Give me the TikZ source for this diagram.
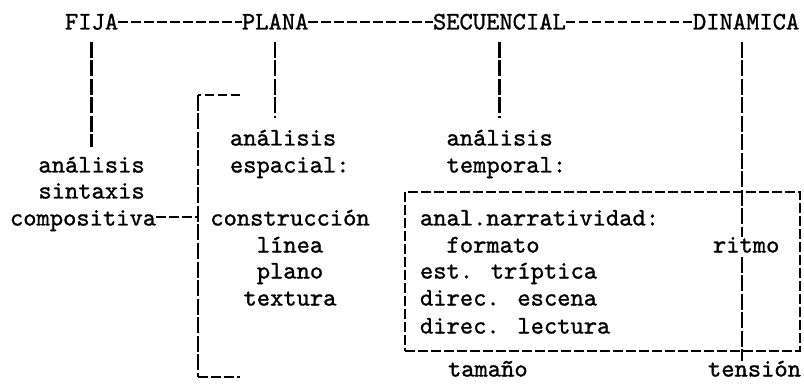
\documentclass[tikz,border=0pt]{standalone}
\usepackage{fontspec}
\newfontfamily\twfont{lmmono10-regular.otf}[FakeBold=1.1]
\begin{document}
\begin{tikzpicture}[x=1pt,y=-1pt,
  every node/.style={inner sep=0pt,outer sep=0pt},
  tw/.style={font=\twfont\fontsize{25.3pt}{26pt}\selectfont},
  capw/.style={tw,anchor=base west,text height=15.5pt,text depth=0pt},
  loww/.style={tw,anchor=base west,text height=10.9pt,text depth=0pt},
  lowc/.style={tw,anchor=base,text height=10.9pt,text depth=0pt},
  hl/.style={line width=2.3pt,dash pattern=on 9.5pt off 3.5pt},
  vl/.style={line width=2.3pt,dash pattern=on 16pt off 2.5pt},
  boxst/.style={draw,line width=2.3pt,dash pattern=on 10pt off 3pt}]
\useasboundingbox (0,0) rectangle (804,385);
% top row
\node[capw] (fija)  at (65,29.5)  {FIJA};
\node[capw] (plana) at (242,29.5) {PLANA};
\node[capw] (sec)   at (433,29.5) {SECUENCIAL};
\node[capw] (din)   at (693,29.5) {DINAMICA};
% left block
\node[lowc] (anL)  at (91.6,172.5) {análisis};
\node[lowc] (sinL) at (91.6,198.5) {sintaxis};
\node[loww] (comp) at (10,225.5)   {compositiva};
% plana block
\node[loww] (anE) at (230,145.5) {análisis};
\node[loww] (esp) at (230,172.5) {espacial:};
\node[lowc] (cons) at (290,225.5) {construcción};
\node[lowc] (lin)  at (290,252.5) {línea};
\node[lowc] (pla)  at (290,278.5) {plano};
\node[lowc] (tex)  at (290,305.5) {textura};
% secuencial block
\node[loww] (anT) at (446.6,145.5) {análisis};
\node[loww] (tem) at (446.6,172.5) {temporal:};
\node[boxst,minimum width=395pt,minimum height=159pt,anchor=north west] (box) at (405,192) {};
\node[loww] (anN) at (420,225.5)   {anal.narratividad:};
\node[loww] (fmt) at (446.6,252.5) {formato};
\node[loww] (est) at (420,278.5)   {est. tríptica};
\node[loww] (esc) at (420,305.5)   {direc. escena};
\node[loww] (lec) at (420,333.5)   {direc. lectura};
\node[loww] (rit) at (713,252.5)   {ritmo};
\node[loww] (tam) at (448,376.5)   {tamaño};
\node[loww] (ten) at (708,376.5)   {tensión};
% coordinates
\coordinate (dl) at (742,0);
\coordinate (brt) at (198,95);
\coordinate (brb) at (198,377);
\coordinate (brte) at (240,95);
\coordinate (brbe) at (240,377);
% top connectors
\draw[hl] (fija.east) -- (plana.west);
\draw[hl] (plana.east) -- (sec.west);
\draw[hl] (sec.east) -- (din.west);
% verticals
\draw[vl] ([yshift=-12.5pt]fija.south) -- ([yshift=14.6pt]fija.south |- anL.north);
\draw[vl] ([yshift=-12.5pt]plana.south) -- ([yshift=16.6pt]plana.south |- anE.north);
\draw[vl] ([yshift=-12.5pt]sec.south) -- ([yshift=16.6pt]sec.south |- anT.north);
\draw[vl] ([yshift=-12.5pt]din.south -| dl) -- ([yshift=5pt]rit.north -| dl);
\draw[vl] ([yshift=-4pt]rit.south -| dl) -- ([yshift=5pt]ten.north -| dl);
% bracket
\draw[hl] (brte) -- (brt);
\draw[vl] (brt) -- (brb);
\draw[hl] (brb) -- (brbe);
\draw[hl] ([yshift=3pt]comp.east) -- ([yshift=3pt]comp.east -| brt);
\end{tikzpicture}
\end{document}
